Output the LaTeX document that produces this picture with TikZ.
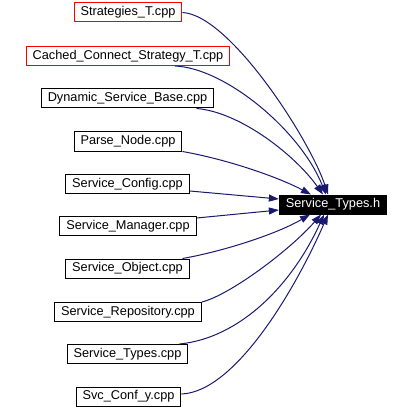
\documentclass[tikz,border=0pt]{standalone}
\usepackage{fontspec}
\setmainfont{Liberation Sans}
\usetikzlibrary{arrows.meta}
\definecolor{edgeblue}{HTML}{191970}
\definecolor{boxred}{HTML}{FF0000}
\begin{document}
\begin{tikzpicture}[x=1pt,y=-1pt,
        file/.style={draw=black,line width=1pt,inner xsep=6.5pt,inner ysep=0pt,
            minimum height=19pt,font=\fontsize{12.75}{14}\selectfont},
        redfile/.style={file,draw=boxred},
        header/.style={file,fill=black,text=white},
        dep/.style={draw=edgeblue,line width=1pt,
            -{Triangle[length=10pt,width=7pt,fill=edgeblue]}}]
        \useasboundingbox (0,0) rectangle (412,409);

        \node[redfile] (strategies) at (128,12.5) {Strategies\_T.cpp};
        \node[redfile] (cached) at (128,56) {Cached\_Connect\_Strategy\_T.cpp};
        \node[file] (dynbase) at (127.5,98.5) {Dynamic\_Service\_Base.cpp};
        \node[file] (parsenode) at (128,141.5) {Parse\_Node.cpp};
        \node[file] (svcconfig) at (127.5,184) {Service\_Config.cpp};
        \node[file] (svcmanager) at (128,226) {Service\_Manager.cpp};
        \node[file] (svcobject) at (127.5,268.5) {Service\_Object.cpp};
        \node[file] (svcrepo) at (128,312) {Service\_Repository.cpp};
        \node[file] (svctypescpp) at (127.5,354) {Service\_Types.cpp};
        \node[file] (svcconfy) at (128.5,396.5) {Svc\_Conf\_y.cpp};

        \node[header] (svctypesh) at (333,204.5) {Service\_Types.h};

        \draw[dep] (strategies.east) .. controls (230,15) and (310,140) .. ([xshift=-5pt]svctypesh.north);
        \draw[dep] ([xshift=47pt]cached.south) .. controls (225,68) and (300,130) .. ([xshift=-7pt]svctypesh.north);
        \draw[dep] ([xshift=69pt]dynbase.south) .. controls (240,112) and (295,155) .. ([xshift=-10pt]svctypesh.north);
        \draw[dep] (parsenode.south east) .. controls (230,160) and (280,178) .. ([xshift=-22pt]svctypesh.north);
        \draw[dep] ([yshift=-7pt]svcconfig.east) -- ([yshift=5.5pt]svctypesh.west);
        \draw[dep] ([yshift=8pt]svcmanager.east) -- ([yshift=-5.5pt]svctypesh.west);
        \draw[dep] ([xshift=55pt]svcobject.north) .. controls (220,252) and (275,235) .. ([xshift=-23pt]svctypesh.south);
        \draw[dep] (svcrepo.north east) .. controls (230,295) and (290,250) .. ([xshift=-12pt]svctypesh.south);
        \draw[dep] ([xshift=52pt]svctypescpp.north) .. controls (240,338) and (292,285) .. ([xshift=-9pt]svctypesh.south);
        \draw[dep] ([yshift=2.5pt]svcconfy.east) .. controls (235,392) and (295,290) .. ([xshift=-5pt]svctypesh.south);
\end{tikzpicture}
\end{document}
